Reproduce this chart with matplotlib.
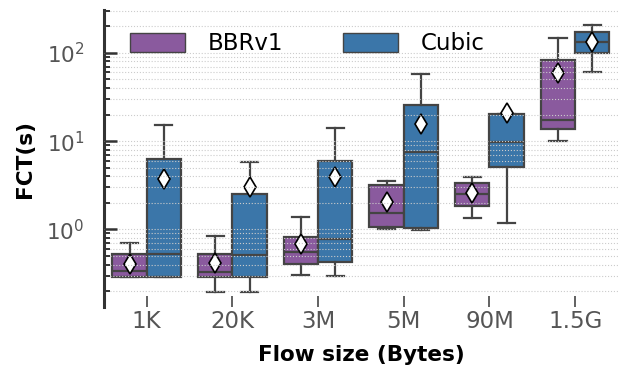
import numpy as np
import matplotlib
matplotlib.use("Agg")
import matplotlib.pyplot as plt
from matplotlib.patches import Patch

# flow sizes on the x axis
sizes = ["1K", "20K", "3M", "5M", "90M", "1.5G"]

# box statistics (seconds)
bbr_whislo = [0.292, 0.196, 0.303, 1.02, 1.34, 10.1]
bbr_q1 = [0.292, 0.292, 0.404, 1.06, 1.85, 13.6]
bbr_med = [0.339, 0.327, 0.552, 1.52, 2.50, 17.4]
bbr_q3 = [0.524, 0.524, 0.815, 3.19, 3.33, 83.0]
bbr_whishi = [0.709, 0.844, 1.40, 3.54, 3.90, 149.0]
bbr_mean = [0.407, 0.414, 0.68, 2.03, 2.57, 58.8]

cubic_whislo = [0.292, 0.196, 0.297, 0.99, 1.18, 60.8]
cubic_q1 = [0.292, 0.292, 0.428, 1.05, 5.14, 98.9]
cubic_med = [0.524, 0.51, 0.78, 7.6, 9.72, 134.0]
cubic_q3 = [6.24, 2.52, 6.01, 25.5, 20.3, 174.0]
cubic_whishi = [15.1, 5.81, 14.0, 57.3, 20.3, 207.0]
cubic_mean = [3.70, 3.05, 3.96, 15.7, 20.7, 134.0]

purple = "#8a5a9e"
blue = "#3b76a9"
edge = "#444444"


def stats(lo, q1, med, q3, hi, mean):
    return [dict(whislo=a, q1=b, med=c, q3=d, whishi=e, mean=f, fliers=[])
            for a, b, c, d, e, f in zip(lo, q1, med, q3, hi, mean)]


fig = plt.figure(figsize=(6.18, 3.70), dpi=100)
ax = fig.add_axes([0.168, 0.170, 0.832, 0.803])

x = np.arange(len(sizes))
groups = [
    (stats(bbr_whislo, bbr_q1, bbr_med, bbr_q3, bbr_whishi, bbr_mean), x - 0.2, purple),
    (stats(cubic_whislo, cubic_q1, cubic_med, cubic_q3, cubic_whishi, cubic_mean), x + 0.2, blue),
]
for st, pos, col in groups:
    ax.bxp(st, positions=pos, widths=0.4, patch_artist=True, showmeans=True,
           showfliers=False, manage_ticks=False,
           boxprops=dict(facecolor=col, edgecolor=edge, linewidth=1.6),
           medianprops=dict(color=edge, linewidth=1.6),
           whiskerprops=dict(color=edge, linewidth=1.6),
           capprops=dict(color=edge, linewidth=1.6),
           meanprops=dict(marker="d", markerfacecolor="white",
                          markeredgecolor="black", markersize=10,
                          markeredgewidth=1.2))

ax.set_yscale("log")
ax.set_ylim(0.132, 306)
ax.set_xlim(-0.5, len(sizes) - 0.5)
ax.set_xticks(x)
ax.set_xticklabels(sizes)

ax.grid(True, which="both", axis="y", linestyle=":", color="#cccccc", linewidth=0.8)
ax.set_axisbelow(False)

for s in ["top", "right", "bottom"]:
    ax.spines[s].set_visible(False)
ax.spines["left"].set_linewidth(2.2)
ax.spines["left"].set_color("#333333")

ax.tick_params(axis="x", direction="in", length=8, width=1.3, color="#555555",
               labelsize=16.5, labelcolor="#555555", pad=2)
ax.tick_params(axis="y", which="major", direction="in", length=9, width=1.8,
               color="#333333", labelsize=15.5, labelcolor="#555555", pad=14)
ax.tick_params(axis="y", which="minor", direction="in", length=4.5, width=1.4,
               color="#333333")

ax.set_xlabel("Flow size (Bytes)", fontsize=15.5, fontweight="bold", labelpad=9)
ax.set_ylabel("FCT(s)", fontsize=15.5, fontweight="bold", labelpad=8)

handles = [Patch(facecolor=purple, edgecolor=edge, linewidth=1.0, label="BBRv1"),
           Patch(facecolor=blue, edgecolor=edge, linewidth=1.0, label="Cubic")]
ax.legend(handles=handles, loc="center left", bbox_to_anchor=(0.010, 0.886),
          ncol=2, frameon=False, fontsize=16.5, handlelength=2.4,
          handleheight=0.85, handletextpad=1.0, columnspacing=2.6)

fig.savefig("out.png", dpi=100)
